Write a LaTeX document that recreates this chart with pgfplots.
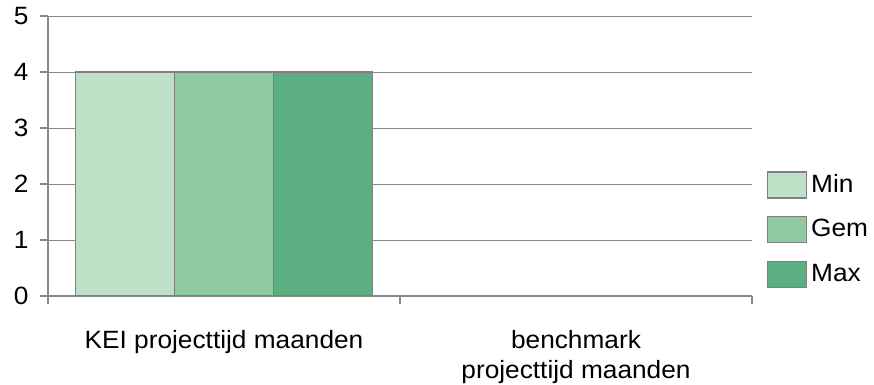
\documentclass[border=0pt]{standalone}
\usepackage{fontspec}
\setmainfont{Liberation Sans}[FakeStretch=1.05]
\usepackage{pgfplots}
\pgfplotsset{compat=1.18}
\definecolor{cmin}{HTML}{BDE0C7}
\definecolor{cgem}{HTML}{90C9A1}
\definecolor{cmax}{HTML}{5BAF81}
\definecolor{edge}{HTML}{808080}
\definecolor{axgray}{HTML}{888888}
\begin{document}
\fontsize{25bp}{30bp}\selectfont
\begin{tikzpicture}
\useasboundingbox (0,0) rectangle (874bp,385bp);
\begin{axis}[
  at={(48bp,89bp)}, anchor=south west,
  scale only axis, width=704bp, height=280bp,
  xmin=-0.5, xmax=1.5, ymin=0, ymax=5,
  ybar=0pt, bar width=99bp,
  axis x line*=bottom, axis y line*=left,
  axis line style={axgray, line width=1.2bp, -},
  ytick={0,1,2,3,4,5},
  ymajorgrids, grid style={axgray, line width=0.8bp},
  xtick={0,1},
  xticklabels={KEI projecttijd maanden, {benchmark\\projecttijd maanden}},
  minor xtick={-0.5,0.5,1.5},
  major x tick style={draw=none},
  minor tick length=8bp, major tick length=8bp,
  tick align=outside,
  tick style={axgray, line width=1.2bp},
  xticklabel style={align=center, anchor=north, yshift=-18bp, font=\fontsize{25bp}{30bp}\selectfont},
  yticklabel style={anchor=east, xshift=-3bp, font=\fontsize{25bp}{28bp}\selectfont},
  /pgf/number format/assume math mode=true,
  legend cell align=left,
  legend style={at={(1.021,0.446)}, anchor=north west, draw=none, fill=none,
    font=\fontsize{25bp}{28bp}\selectfont, inner sep=0pt, row sep=17.5bp,
    nodes={inner xsep=4bp, inner ysep=0bp}},
  legend image code/.code={\draw[#1] (0bp,-13bp) rectangle (39bp,13bp);},
]
\addplot[fill=cmin, draw=edge, line width=1.2bp] coordinates {(0,4)};
\addplot[fill=cgem, draw=edge, line width=1.2bp] coordinates {(0,4)};
\addplot[fill=cmax, draw=edge, line width=1.2bp] coordinates {(0,4)};
\legend{Min,Gem,Max}
\end{axis}
\end{tikzpicture}
\end{document}
